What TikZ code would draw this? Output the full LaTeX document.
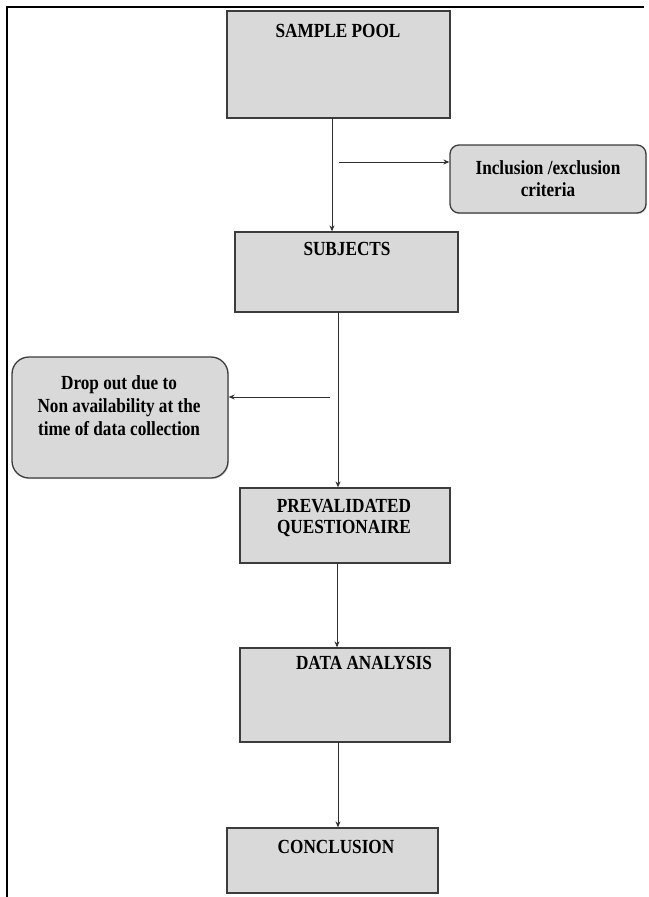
\documentclass[tikz,border=0pt]{standalone}
\usepackage{fontspec}
\setmainfont{Liberation Serif}
\newfontfamily\condfont[FakeStretch=0.86]{Liberation Serif}
\usetikzlibrary{arrows.meta,shadows}
\definecolor{boxfill}{HTML}{D9D9D9}
\definecolor{boxline}{HTML}{3C3C3C}
\definecolor{lineclr}{HTML}{303030}
\begin{document}
\begin{tikzpicture}[x=1pt,y=-1pt,
  box/.style={draw=boxline, fill=boxfill, line width=1.3pt, inner sep=0pt, rectangle},
  rbox/.style={box, rounded corners=#1, drop shadow={opacity=0.25, shadow xshift=1pt, shadow yshift=-1.2pt}},
  lbl/.style={font=\condfont\bfseries\fontsize{20}{22}\selectfont, align=center, text=black, inner sep=0pt},
  conn/.style={draw=lineclr, line width=1pt, -{Stealth[length=6pt,width=5pt]}}
]
\fill[white] (0,0) rectangle (648,897);
\useasboundingbox (0,0) rectangle (648,897);
% frame
\draw[line width=2.6pt] (7,897) -- (7,7) -- (644,7);

% boxes
\node[box, minimum width=223pt, minimum height=107pt] (pool) at (338.5,64.5) {};
\node[rbox=9pt, minimum width=196pt, minimum height=68pt] (incl) at (548,179) {};
\node[box, minimum width=223pt, minimum height=80pt] (subj) at (346.5,272) {};
\node[rbox=17pt, minimum width=216pt, minimum height=121pt] (drop) at (120,417.5) {};
\node[box, minimum width=210pt, minimum height=75pt] (prev) at (345,525.5) {};
\node[box, minimum width=210pt, minimum height=94pt] (data) at (345,695) {};
\node[box, minimum width=211pt, minimum height=65pt] (concl) at (332.5,860.5) {};

% labels
\node[lbl] (pool-t) at (338,31) {SAMPLE POOL};
\node[lbl] (incl-t) at (548,179) {Inclusion /exclusion\\criteria};
\node[lbl] (subj-t) at (347,249) {SUBJECTS};
\node[lbl, font=\condfont\bfseries\fontsize{20}{23}\selectfont] (drop-t) at (119,406) {Drop out due to\\Non availability at the\\time of data collection};
\node[lbl, font=\condfont\bfseries\fontsize{20}{20.5}\selectfont] (prev-t) at (344,518) {PREVALIDATED\\QUESTIONAIRE};
\node[lbl] (data-t) at (364,663) {DATA ANALYSIS};
\node[lbl] (concl-t) at (336,847) {CONCLUSION};

% connectors
\coordinate (poolout) at (332,118);
\draw[conn] (poolout) -- (poolout |- subj.north);
\coordinate (inclsrc) at (339,162);
\draw[conn] (inclsrc) -- (inclsrc -| incl.west);
\coordinate (subjout) at (338,312);
\draw[conn] (subjout) -- (subjout |- prev.north);
\coordinate (dropsrc) at (330,397);
\draw[conn] (dropsrc) -- (dropsrc -| drop.east);
\coordinate (prevout) at (337,563);
\draw[conn] (prevout) -- (prevout |- data.north);
\coordinate (dataout) at (338,742);
\draw[conn] (dataout) -- (dataout |- concl.north);
\end{tikzpicture}
\end{document}
